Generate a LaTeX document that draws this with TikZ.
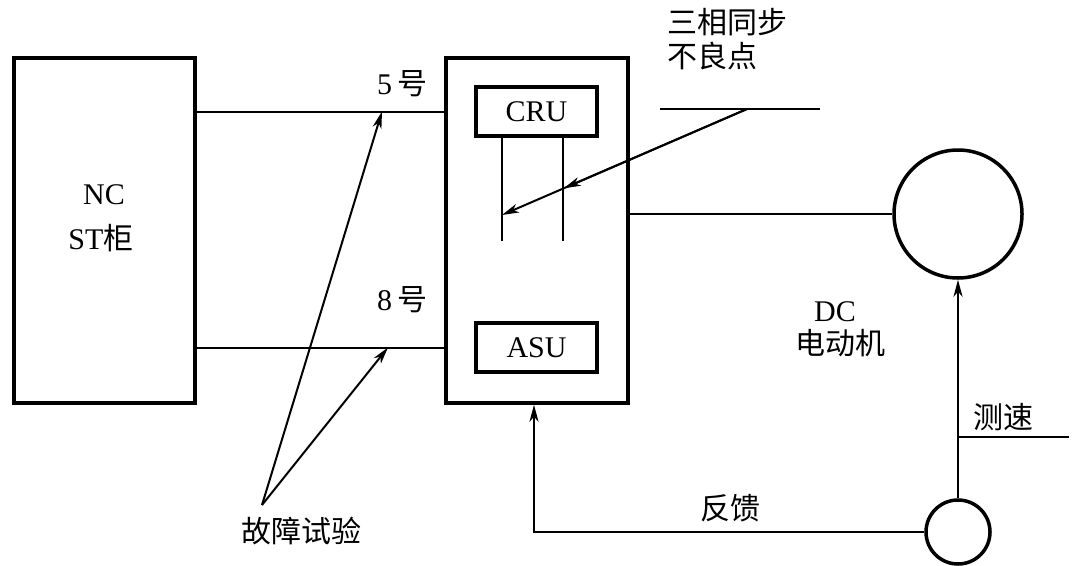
\documentclass[tikz,border=0pt]{standalone}
\usepackage{fontspec}
\setmainfont{Liberation Serif}
\newfontfamily\cjk{Noto Sans CJK SC}
\usetikzlibrary{arrows.meta,calc}
\begin{document}
\begin{tikzpicture}[x=1pt,y=-1pt,
  box/.style={draw,line width=3.5pt,rectangle,inner sep=0pt},
  ring/.style={draw,line width=3.5pt,circle,inner sep=0pt},
  wire/.style={line width=2pt},
  arr/.style={wire,-{Stealth[length=17pt,width=9pt,inset=5pt]}},
  txt/.style={inner sep=0pt,font=\fontsize{30}{34}\selectfont}]
\useasboundingbox (0,0) rectangle (1075,565);
% boxes
\node[box,minimum width=181pt,minimum height=345pt] (nc) at (104.5,230.5) {};
\node[box,minimum width=182pt,minimum height=345pt] (mid) at (537,230.5) {};
\node[box,minimum width=121pt,minimum height=49pt,txt] (cru) at (536.5,111.5) {CRU};
\node[box,minimum width=121pt,minimum height=49pt,txt] (asu) at (536.5,347.5) {ASU};
\node[ring,minimum size=128pt] (motor) at (958,214) {};
\node[ring,minimum size=64pt] (tacho) at (958,532) {};
% texts
\node[txt] (tnc) at (104,195) {NC};
\node[txt] (tst) at (101,238) {ST{\cjk 柜}};
\node[txt] (t5) at (402,84) {5\,{\cjk 号}};
\node[txt] (t8) at (402,300) {8\,{\cjk 号}};
\node[txt,anchor=west] (tsync1) at (667,22) {\cjk 三相同步};
\node[txt,anchor=west] (tsync2) at (667,56) {\cjk 不良点};
\node[txt] (tdc) at (835,312) {DC};
\node[txt] (tmot) at (840,343) {\cjk 电动机};
\node[txt] (tfb) at (730,508) {\cjk 反馈};
\node[txt] (tspd) at (1003,417) {\cjk 测速};
\node[txt] (tfault) at (301,531) {\cjk 故障试验};
% coordinates
\coordinate (ft) at (262,505);
\coordinate (p5) at (382,111.5);
\coordinate (p8) at (388,347.5);
\coordinate (h1) at (660,109);
\coordinate (h2) at (820,109);
\coordinate (s0) at (747,109);
\coordinate (s1) at (502,215);
\coordinate (l1) at (502,241);
\coordinate (l2) at (563,241);
\coordinate (spd1) at (958,437);
\coordinate (spd2) at (1069,437);
\coordinate (fbc) at (534,532);
% connectors
\draw[wire] (nc.east |- cru) -- (mid.west |- cru);
\draw[wire] (nc.east |- asu) -- (mid.west |- asu);
\draw[arr] (ft) -- (p5);
\draw[arr] (ft) -- (p8);
\draw[wire] (cru.south -| l1) -- (l1);
\draw[wire] (cru.south -| l2) -- (l2);
\draw[wire] (h1) -- (h2);
\draw[arr] (s0) -- (s1);
\draw[arr] (s0) -- ($(s0)!0.748!(s1)$);
\draw[wire] (mid.east |- motor) -- (motor.west);
\draw[arr] (tacho.north) -- (motor.south);
\draw[wire] (spd1) -- (spd2);
\draw[arr] (tacho.west) -- (fbc) -- (mid.south -| fbc);
\end{tikzpicture}
\end{document}
